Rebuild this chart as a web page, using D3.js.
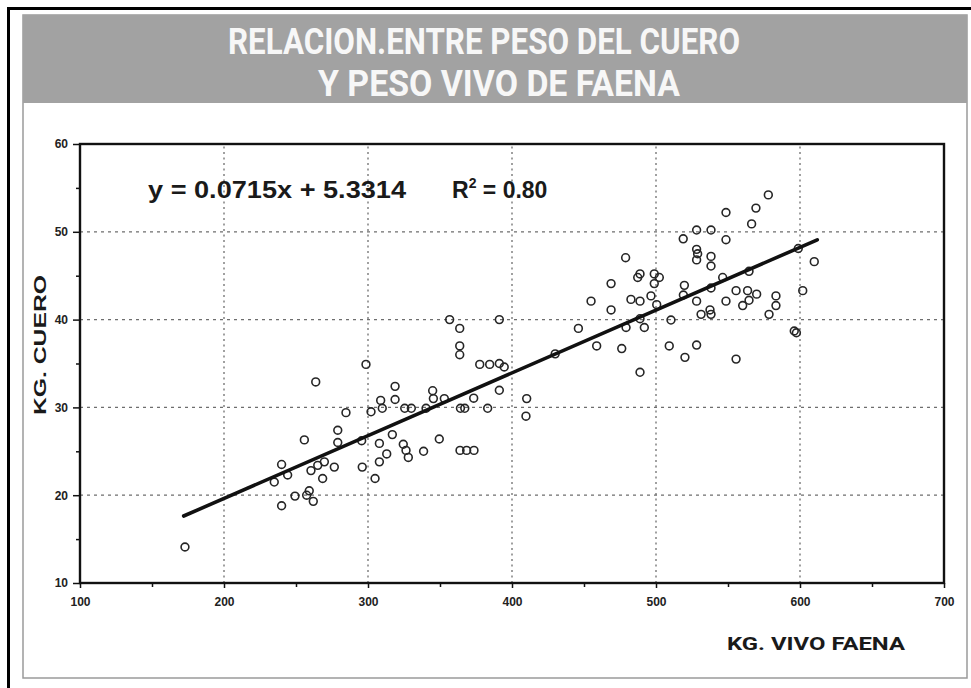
<!DOCTYPE html>
<html>
<head>
<meta charset="utf-8">
<script src="https://cdn.jsdelivr.net/npm/d3@7"></script>
<style>
  body { margin: 0; background: #fff; }
  svg { display: block; }
</style>
</head>
<body>
<svg id="chart" width="971" height="688"></svg>
<script>
// data
var titleLines = ["RELACION.ENTRE PESO DEL CUERO", "Y PESO VIVO DE FAENA"];
var xTicks = [100, 200, 300, 400, 500, 600, 700];
var yTicks = [10, 20, 30, 40, 50, 60];
var xGrid = [200, 300, 400, 500, 600];
var yGrid = [20, 30, 40, 50];
var fit = { slope: 0.0715, intercept: 5.3314, r2: "0.80", from: 172, to: 612 };

var pesoVivo = [
  172.9, 240.0, 249.3, 257.4, 259.2, 262.0, 234.9, 244.2, 240.0, 260.4,
  265.1, 269.7, 276.6, 268.5, 255.8, 279.0, 279.0, 263.7, 298.6, 318.8,
  308.8, 318.8, 309.9, 302.1, 284.7, 325.5, 330.1, 340.3, 344.9, 345.4,
  353.0, 295.6, 307.9, 316.9, 324.5, 326.4, 328.0, 338.6, 349.5, 313.0,
  307.9, 296.0, 304.9, 356.7, 391.2, 363.7, 363.7, 363.7, 377.6, 384.5,
  391.2, 394.6, 373.4, 391.2, 364.2, 367.2, 383.1, 410.2, 409.7, 363.9,
  368.5, 373.6, 430.0, 446.1, 454.9, 458.8, 468.8, 468.8, 476.2, 478.9,
  482.6, 488.9, 487.3, 488.9, 479.2, 488.9, 491.9, 488.9, 496.5, 498.8,
  502.3, 498.8, 500.5, 509.2, 510.4, 519.7, 520.1, 518.9, 528.2, 528.2,
  528.2, 528.2, 528.2, 578.0, 569.4, 548.6, 566.4, 538.2, 548.6, 528.9,
  538.2, 538.2, 609.9, 598.8, 564.6, 546.3, 519.0, 538.2, 555.6, 548.6,
  563.6, 569.9, 564.6, 560.2, 583.3, 583.3, 578.5, 531.3, 538.2, 537.5,
  601.9, 596.0, 597.5, 555.6
];
var pesoCuero = [
  14.1, 18.8, 19.9, 20.0, 20.5, 19.3, 21.5, 22.3, 23.5, 22.8,
  23.4, 23.8, 23.2, 21.9, 26.3, 27.4, 26.0, 32.9, 34.9, 32.4,
  30.8, 30.9, 29.9, 29.5, 29.4, 29.9, 29.9, 29.9, 31.9, 31.0,
  31.0, 26.2, 25.9, 26.9, 25.8, 25.1, 24.3, 25.0, 26.4, 24.7,
  23.8, 23.2, 21.9, 40.0, 40.0, 39.0, 37.0, 36.0, 34.9, 34.9,
  35.0, 34.6, 31.05, 31.95, 29.9, 29.9, 29.9, 31.0, 29.0, 25.1,
  25.1, 25.1, 36.1, 39.0, 42.1, 37.0, 44.1, 41.1, 36.7, 47.05,
  42.3, 42.1, 44.8, 45.2, 39.1, 40.1, 39.1, 34.0, 42.7, 45.2,
  44.8, 44.1, 41.7, 37.0, 39.95, 43.9, 35.7, 49.2, 50.2, 48.0,
  46.8, 42.1, 37.1, 54.2, 52.7, 52.2, 50.9, 50.2, 49.1, 47.5,
  47.2, 46.1, 46.6, 48.1, 45.5, 44.8, 42.8, 43.6, 43.3, 42.1,
  43.3, 42.9, 42.2, 41.6, 42.7, 41.6, 40.6, 40.6, 40.6, 41.1,
  43.3, 38.7, 38.5, 35.5
];

var svg = d3.select("#chart");

// outer frame (scan border)
svg.append("path")
  .attr("d", "M8.5,688 V8.5 H971")
  .attr("fill", "none").attr("stroke", "#000").attr("stroke-width", 3);

// inner frame + grey header
svg.append("rect")
  .attr("x", 23).attr("y", 15).attr("width", 944).attr("height", 663)
  .attr("fill", "#fff").attr("stroke", "#9a9a9a").attr("stroke-width", 1.5);
svg.append("rect")
  .attr("x", 23).attr("y", 15).attr("width", 944).attr("height", 88)
  .attr("fill", "#a2a2a2");

// title
svg.append("g")
  .selectAll("text")
  .data(titleLines)
  .join("text")
  .attr("text-anchor", "middle")
  .attr("font-family", "Roboto, 'Open Sans', sans-serif")
  .attr("font-weight", "bold")
  .attr("font-size", 36)
  .attr("fill", "#f7f7f7")
  .attr("x", (d, i) => i ? 499 : 484)
  .attr("y", (d, i) => i ? 96 : 53.5)
  .attr("textLength", (d, i) => i ? 362 : 512)
  .attr("lengthAdjust", "spacingAndGlyphs")
  .text(d => d);

var x = d3.scaleLinear().domain([100, 700]).range([80, 944]);
var y = d3.scaleLinear().domain([10, 60]).range([583, 144]);

// grid
svg.append("g")
  .selectAll("line")
  .data(yGrid)
  .join("line")
  .attr("x1", x(100)).attr("x2", x(700))
  .attr("y1", d => y(d)).attr("y2", d => y(d))
  .attr("stroke", "#6e6e6e").attr("stroke-width", 1.3)
  .attr("stroke-dasharray", "3,4");
svg.append("g")
  .selectAll("line")
  .data(xGrid)
  .join("line")
  .attr("y1", y(10)).attr("y2", y(60))
  .attr("x1", d => x(d)).attr("x2", d => x(d))
  .attr("stroke", "#6e6e6e").attr("stroke-width", 1.3)
  .attr("stroke-dasharray", "2,3.5");

// axes
var tickFont = g => g.selectAll("text")
  .attr("font-family", "Arial, 'Liberation Sans', sans-serif")
  .attr("font-weight", "bold")
  .attr("font-size", 12)
  .attr("fill", "#222");

svg.append("g")
  .attr("transform", `translate(0,${y(10)})`)
  .call(d3.axisBottom(x).tickValues(d3.range(150, 700, 100)).tickSize(4).tickFormat(""))
  .call(g => g.select(".domain").remove())
  .selectAll("line").attr("stroke", "#111").attr("stroke-width", 1.5);
svg.append("g")
  .attr("transform", `translate(0,${y(10)})`)
  .call(d3.axisBottom(x).tickValues(xTicks).tickSize(5).tickPadding(9))
  .call(g => g.select(".domain").remove())
  .call(g => g.selectAll("line").attr("stroke", "#111").attr("stroke-width", 1.5))
  .call(tickFont);

svg.append("g")
  .attr("transform", `translate(${x(100)},0)`)
  .call(d3.axisLeft(y).tickValues(d3.range(15, 60, 10)).tickSize(4).tickFormat(""))
  .call(g => g.select(".domain").remove())
  .selectAll("line").attr("stroke", "#111").attr("stroke-width", 1.5);
svg.append("g")
  .attr("transform", `translate(${x(100)},0)`)
  .call(d3.axisLeft(y).tickValues(yTicks).tickSize(7).tickPadding(5))
  .call(g => g.select(".domain").remove())
  .call(g => g.selectAll("line").attr("stroke", "#111").attr("stroke-width", 1.5))
  .call(tickFont);

// plot box
svg.append("rect")
  .attr("x", x(100)).attr("y", y(60))
  .attr("width", x(700) - x(100)).attr("height", y(10) - y(60))
  .attr("fill", "none").attr("stroke", "#111").attr("stroke-width", 2.4);

// points
var pts = pesoVivo.map((v, i) => [v, pesoCuero[i]]);
svg.append("g")
  .selectAll("circle")
  .data(pts)
  .join("circle")
  .attr("cx", d => x(d[0]))
  .attr("cy", d => y(d[1]))
  .attr("r", 3.9)
  .attr("fill", "none")
  .attr("stroke", "#262626")
  .attr("stroke-width", 1.6);

// trend line
var line = d3.line().x(d => x(d)).y(d => y(fit.slope * d + fit.intercept));
svg.append("path")
  .attr("d", line([fit.from, fit.to]))
  .attr("fill", "none")
  .attr("stroke", "#111")
  .attr("stroke-width", 3.6)
  .attr("stroke-linecap", "round");

// equation
var eq = svg.append("g")
  .attr("font-family", "Arial, 'Liberation Sans', sans-serif")
  .attr("font-weight", "bold")
  .attr("fill", "#1a1a1a");
eq.append("text")
  .attr("x", 148).attr("y", 198)
  .attr("font-size", 23)
  .attr("textLength", 258).attr("lengthAdjust", "spacingAndGlyphs")
  .text(`y = ${fit.slope}x + ${fit.intercept}`);
var r2 = eq.append("text").attr("x", 452).attr("y", 198).attr("font-size", 23);
r2.append("tspan").text("R");
r2.append("tspan").attr("font-size", 14).attr("dy", -10).text("2");
r2.append("tspan").attr("dy", 10).text(` = ${fit.r2}`);

// axis titles
svg.append("text")
  .attr("transform", "translate(46,345) rotate(-90)")
  .attr("text-anchor", "middle")
  .attr("font-family", "Arial, 'Liberation Sans', sans-serif")
  .attr("font-weight", "bold")
  .attr("font-size", 17)
  .attr("fill", "#1a1a1a")
  .attr("textLength", 140).attr("lengthAdjust", "spacingAndGlyphs")
  .text("KG. CUERO");

svg.append("text")
  .attr("x", 727).attr("y", 650)
  .attr("font-family", "Roboto, 'Open Sans', sans-serif")
  .attr("font-weight", "bold")
  .attr("font-size", 19)
  .attr("fill", "#1a1a1a")
  .attr("textLength", 178).attr("lengthAdjust", "spacingAndGlyphs")
  .text("KG. VIVO FAENA");
</script>
</body>
</html>
